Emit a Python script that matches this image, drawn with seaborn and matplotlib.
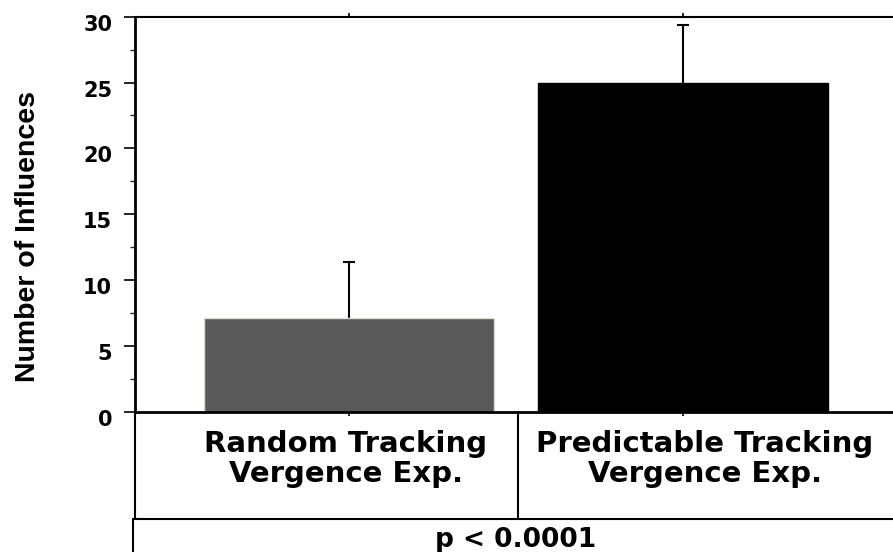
import numpy as np
import pandas as pd
import seaborn as sns
import matplotlib
matplotlib.use("Agg")
import matplotlib.pyplot as plt
from matplotlib import font_manager as fm
from matplotlib.transforms import ScaledTranslation, blended_transform_factory
from matplotlib.lines import Line2D

# ---- data ----
categories = ["Random Tracking\nVergence Exp.", "Predictable Tracking\nVergence Exp."]
values = [7.15, 25.0]
errors = [4.2, 4.35]
bar_colors = ["#595959", "#000000"]
edge_colors = ["#deded0", "#000000"]
y_ticks = [0, 5, 10, 15, 20, 25, 30]
y_label = "Number of Influences"
p_text = "p < 0.0001"

sns.set_style("ticks")


def has_font(name):
    try:
        fm.findfont(fm.FontProperties(family=name), fallback_to_default=False)
        return True
    except Exception:
        return False


narrow = None
for cand in ["Liberation Sans Narrow", "Arial Narrow", "Nimbus Sans Narrow"]:
    if has_font(cand):
        narrow = cand
        break

plt.rcParams["font.family"] = ["DejaVu Sans"]
plt.rcParams["font.weight"] = "bold"
plt.rcParams["text.color"] = "black"

fig = plt.figure(figsize=(8.93, 5.52), dpi=100)
W, H = 893, 552
ax_left, ax_right, ax_top, ax_bottom = 135, 893, 16.7, 411.7
ax = fig.add_axes([ax_left / W, 1 - ax_bottom / H, (ax_right - ax_left) / W, (ax_bottom - ax_top) / H])

df = pd.DataFrame({"cat": categories, "val": values})
sns.barplot(data=df, x="cat", y="val", hue="cat", palette=bar_colors, order=categories,
            hue_order=categories, width=0.87, legend=False, ax=ax, errorbar=None, saturation=1)
for patch, ec in zip(ax.patches, edge_colors):
    patch.set_edgecolor(ec)
    patch.set_linewidth(1.0)
    patch.set_zorder(2)

xpos = np.arange(len(categories))
eb = ax.errorbar(xpos, values, yerr=[np.zeros(len(errors)), errors], fmt="none",
                 ecolor="black", elinewidth=1.5, capsize=4, capthick=1.5, zorder=1)
# hide the lower caps (only upper error shown)
caplines = eb[1]
if len(caplines) >= 2:
    caplines[0].set_visible(False)

# axes limits: category spacing 334px, left spine at 135px, cat0 at 349px
ax.set_xlim(-0.641, 1.629)
ax.set_ylim(0, 30)
ax.set_yticks(y_ticks)
ax.set_yticklabels([str(t) for t in y_ticks])
ax.set_yticks(np.arange(2.5, 30, 5), minor=True)
ax.set_xlabel("")
ax.set_ylabel("")

for s in ["left", "top", "bottom"]:
    ax.spines[s].set_visible(True)
    ax.spines[s].set_color("black")
    ax.spines[s].set_zorder(3)
ax.spines["right"].set_visible(False)
ax.spines["left"].set_linewidth(2.0)
ax.spines["bottom"].set_linewidth(2.0)
ax.spines["top"].set_linewidth(1.5)

ax.tick_params(axis="y", which="major", direction="out", length=8, width=1.2,
               pad=8.5, labelsize=15, colors="black")
ax.tick_params(axis="y", which="minor", direction="out", length=3.5, width=1.0)
ax.tick_params(axis="x", which="major", direction="out", length=3, width=1.2,
               top=True, bottom=True, labeltop=False, labelbottom=True,
               pad=10, labelsize=21, colors="black")

for lab in ax.get_yticklabels():
    lab.set_fontweight("bold")
    lab.set_transform(lab.get_transform() + ScaledTranslation(0, -0.06, fig.dpi_scale_trans))

x_shifts = [-0.03, 0.22]
for lab, dx in zip(ax.get_xticklabels(), x_shifts):
    lab.set_fontweight("bold")
    lab.set_linespacing(1.12)
    lab.set_transform(lab.get_transform() + ScaledTranslation(dx, 0, fig.dpi_scale_trans))

# ---- table lines below the axis ----
trans = blended_transform_factory(ax.transData, ax.transAxes)
row1_bottom = (ax_bottom - 519) / (ax_bottom - ax_top)
fig_bottom = (ax_bottom - 553) / (ax_bottom - ax_top)
x_left = -0.641
x_div = (518 - 349) / 334
x_left2 = (133 - 349) / 334
lines = [
    ([x_left, x_left], [0, row1_bottom], 1.5),
    ([x_div, x_div], [0, row1_bottom], 1.5),
    ([x_left2, 2.0], [row1_bottom, row1_bottom], 1.5),
    ([x_left2, x_left2], [row1_bottom, fig_bottom], 1.5),
]
for xs, ys, lw in lines:
    ln = Line2D(xs, ys, transform=trans, color="black", linewidth=lw, clip_on=False)
    ax.add_line(ln)

# y label
if narrow:
    fig.text(28 / W, 1 - 236 / H, y_label, rotation=90, ha="center", va="center",
             fontsize=24.5, fontweight="bold", color="black", family=[narrow, "DejaVu Sans"])
else:
    fig.text(28 / W, 1 - 236 / H, y_label, rotation=90, ha="center", va="center",
             fontsize=20.5, fontweight="bold", color="black",
             family=["Liberation Sans", "DejaVu Sans"])

# p-value row
fig.text(516 / W, 1 - 547 / H, p_text, ha="center", va="baseline",
         fontsize=19, fontweight="bold", color="black")

fig.savefig("out.png", dpi=100)
